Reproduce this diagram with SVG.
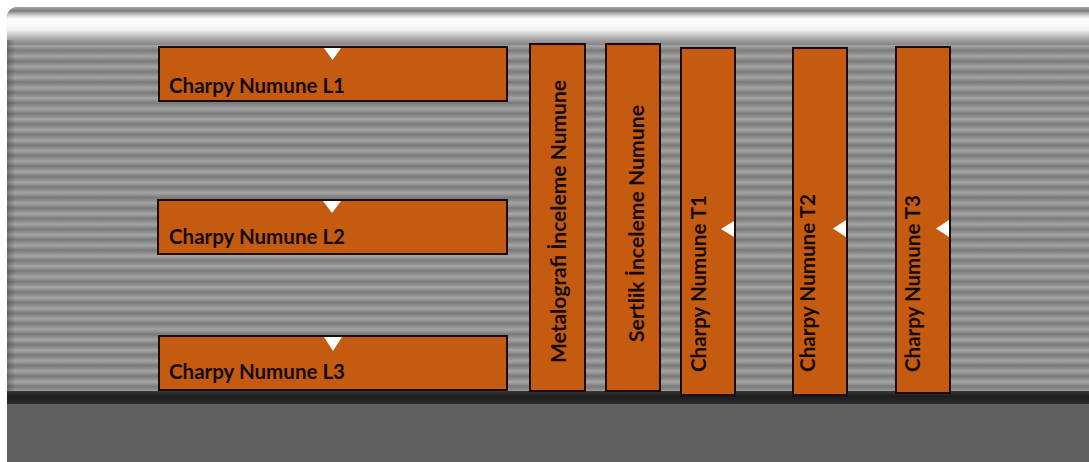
<svg xmlns="http://www.w3.org/2000/svg" width="1089" height="462" viewBox="0 0 1089 462">
  <defs>
    <linearGradient id="topBand" x1="0" y1="0" x2="0" y2="1">
      <stop offset="0" stop-color="#a8a8a8"/>
      <stop offset="0.1" stop-color="#7c7c7c"/>
      <stop offset="0.22" stop-color="#d4d4d4"/>
      <stop offset="0.32" stop-color="#ffffff"/>
      <stop offset="0.6" stop-color="#f2f2f2"/>
      <stop offset="0.85" stop-color="#a4a4a4"/>
      <stop offset="1" stop-color="#858585"/>
    </linearGradient>
    <linearGradient id="stripeGrad" x1="0" y1="0" x2="0" y2="1">
      <stop offset="0" stop-color="#797979"/>
      <stop offset="0.3" stop-color="#8e8e8e"/>
      <stop offset="0.55" stop-color="#a6a6a6"/>
      <stop offset="0.8" stop-color="#8e8e8e"/>
      <stop offset="1" stop-color="#797979"/>
    </linearGradient>
    <pattern id="stripes" patternUnits="userSpaceOnUse" x="0" y="40" width="20" height="10.5">
      <rect x="0" y="0" width="20" height="10.5" fill="url(#stripeGrad)"/>
    </pattern>
    <linearGradient id="bottomBand" x1="0" y1="0" x2="0" y2="1">
      <stop offset="0" stop-color="#3a3a3a"/>
      <stop offset="0.4" stop-color="#1c1c1c"/>
      <stop offset="1" stop-color="#2c2c2c"/>
    </linearGradient>
    <linearGradient id="leftShade" x1="0" y1="0" x2="1" y2="0">
      <stop offset="0" stop-color="#000" stop-opacity="0.25"/>
      <stop offset="1" stop-color="#000" stop-opacity="0"/>
    </linearGradient>
  </defs>
  <style>
    .box { fill: #c55a11; stroke: #1a0c04; stroke-width: 2; }
    .mark { fill: #ffffff; }
    .lbl { font-family: Lato, "Open Sans", "Liberation Sans", sans-serif; font-weight: bold; font-size: 20.5px; fill: #140a04; }
  </style>

  <!-- background plate -->
  <rect x="0" y="0" width="1089" height="462" fill="#ffffff"/>
  <path d="M7,19 Q7,7 19,7 L1089,7 L1089,462 L7,462 Z" fill="#606060"/>
  <rect x="7" y="40" width="1082" height="352" fill="url(#stripes)"/>
  <path d="M7,45 L7,19 Q7,7 19,7 L1089,7 L1089,45 Z" fill="url(#topBand)"/>
  <rect x="7" y="40" width="8" height="352" fill="url(#leftShade)"/>
  <rect x="7" y="391" width="1082" height="13" fill="url(#bottomBand)"/>

  <g id="connectors"/>

  <g id="node-L1">
    <rect class="box" x="159" y="47" width="348" height="54"/>
    <polygon class="mark" points="324,48 341,48 332.5,60"/>
    <text class="lbl" x="169" y="93" textLength="176" lengthAdjust="spacingAndGlyphs">Charpy Numune L1</text>
  </g>
  <g id="node-L2">
    <rect class="box" x="158" y="200" width="349" height="54"/>
    <polygon class="mark" points="323,201 341,201 332,213"/>
    <text class="lbl" x="169" y="244" textLength="176" lengthAdjust="spacingAndGlyphs">Charpy Numune L2</text>
  </g>
  <g id="node-L3">
    <rect class="box" x="159" y="336" width="348" height="54"/>
    <polygon class="mark" points="324,337 342,337 333,351"/>
    <text class="lbl" x="169" y="379" textLength="176" lengthAdjust="spacingAndGlyphs">Charpy Numune L3</text>
  </g>
  <g id="node-metalografi">
    <rect class="box" x="530" y="44" width="55" height="347"/>
    <text class="lbl" transform="translate(566,363) rotate(-90)" textLength="283" lengthAdjust="spacingAndGlyphs">Metalografi İnceleme Numune</text>
  </g>
  <g id="node-sertlik">
    <rect class="box" x="606" y="44" width="54" height="347"/>
    <text class="lbl" transform="translate(644,342) rotate(-90)" textLength="237" lengthAdjust="spacingAndGlyphs">Sertlik İnceleme Numune</text>
  </g>
  <g id="node-T1">
    <rect class="box" x="681" y="48" width="54" height="347"/>
    <polygon class="mark" points="734,221 734,237 721,229"/>
    <text class="lbl" transform="translate(706,372) rotate(-90)" textLength="177" lengthAdjust="spacingAndGlyphs">Charpy Numune T1</text>
  </g>
  <g id="node-T2">
    <rect class="box" x="793" y="48" width="54" height="347"/>
    <polygon class="mark" points="846,220 846,237 833,228.5"/>
    <text class="lbl" transform="translate(815,372) rotate(-90)" textLength="178" lengthAdjust="spacingAndGlyphs">Charpy Numune T2</text>
  </g>
  <g id="node-T3">
    <rect class="box" x="896" y="47" width="54" height="346"/>
    <polygon class="mark" points="949,220 949,237 936,228.5"/>
    <text class="lbl" transform="translate(920,372) rotate(-90)" textLength="177" lengthAdjust="spacingAndGlyphs">Charpy Numune T3</text>
  </g>
</svg>
